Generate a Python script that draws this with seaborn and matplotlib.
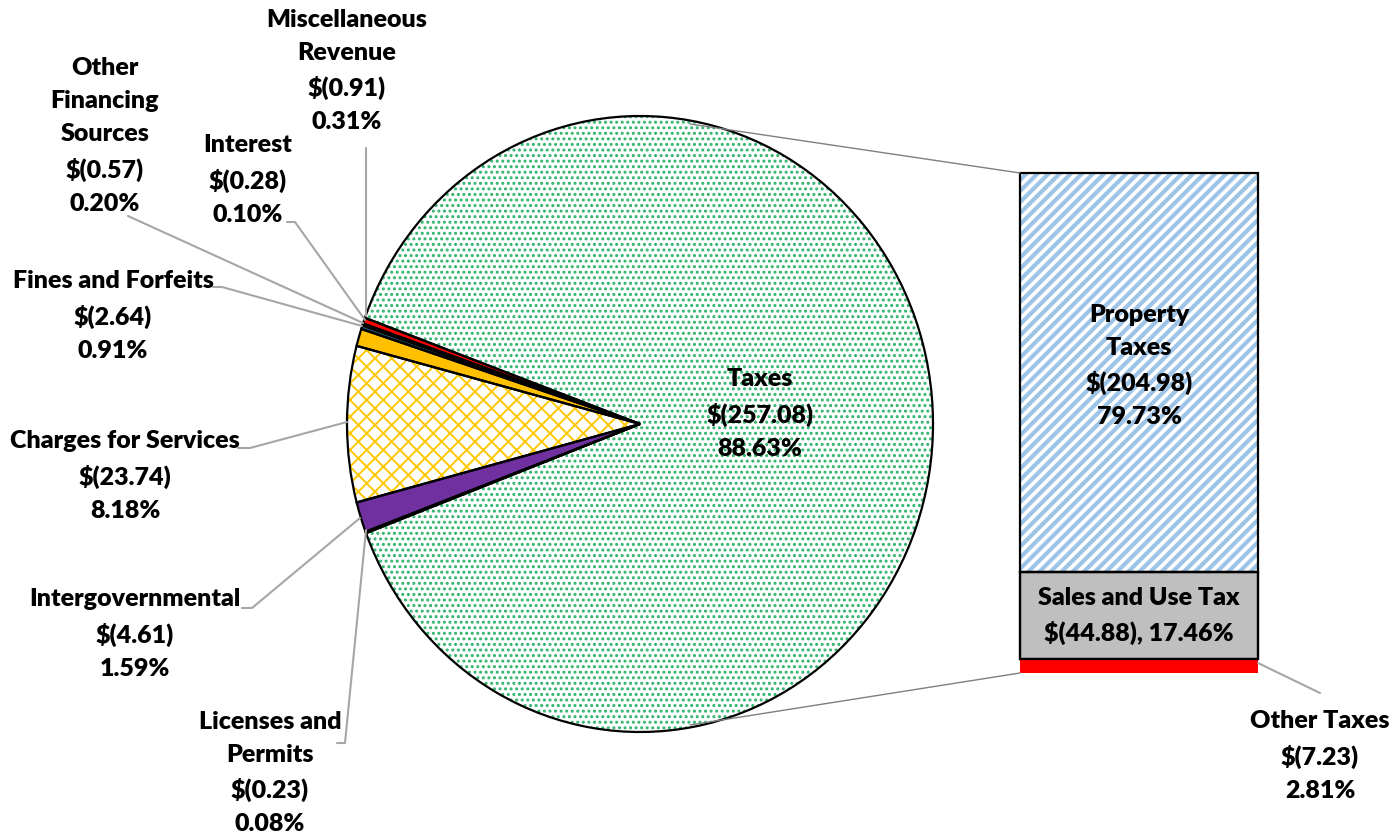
import numpy as np
import matplotlib.pyplot as plt
import seaborn as sns

sns.set_theme(style="white")
plt.rcParams['font.family'] = ['Lato', 'DejaVu Sans']
plt.rcParams['hatch.linewidth'] = 1.4

# --- data -------------------------------------------------------------
pie_names = ["Taxes", "Miscellaneous\nRevenue", "Interest",
             "Other\nFinancing\nSources", "Fines and Forfeits",
             "Charges for Services", "Intergovernmental",
             "Licenses and\nPermits"]
pie_amounts = [257.08, 0.91, 0.28, 0.57, 2.64, 23.74, 4.61, 0.23]
pie_pcts = [88.63, 0.31, 0.10, 0.20, 0.91, 8.18, 1.59, 0.08]
pie_colors = ["white", "#FF0000", "#000000", "#1F5060", "#FFC000",
              "white", "#7030A0", "#2E7D4F"]
pie_hatches = ["...", None, None, None, None, "xx", None, None]
pie_hatch_colors = ["#2DB36A", None, None, None, None, "#FFC800", None, None]

bar_names = ["Property\nTaxes", "Sales and Use Tax", "Other Taxes"]
bar_amounts = [204.98, 44.88, 7.23]
bar_pcts = [79.73, 17.46, 2.81]
bar_colors = ["white", "#BFBFBF", "#FF0000"]

W, H = 1390, 840
fig = plt.figure(figsize=(W / 100, H / 100), dpi=100)

# pie sits in its own axes (slightly taller than wide, like the original)
pax = fig.add_axes([347 / W, (H - 732) / H, 586 / W, 616 / H])
start = 180 + 0.5 * (sum(pie_pcts) - pie_pcts[0]) / 100 * 360 + 0.3
wedges, _ = pax.pie(pie_pcts, colors=pie_colors, startangle=start,
                    counterclock=True, wedgeprops=dict(linewidth=0))
for w, h, hc in zip(wedges, pie_hatches, pie_hatch_colors):
    if h:
        w.set_hatch(h)
        w.set_edgecolor(hc)
pax.pie(pie_pcts, colors=["none"] * len(pie_pcts), startangle=start,
        counterclock=True,
        wedgeprops=dict(linewidth=1.6, edgecolor="black", fill=False))
pax.set_aspect("auto")
pax.set_xlim(-1.0, 1.0)
pax.set_ylim(-1.0, 1.0)
pax.axis("off")

# overlay axes in pixel coordinates
ax = fig.add_axes([0, 0, 1, 1])
ax.set_xlim(0, W)
ax.set_ylim(H, 0)
ax.patch.set_alpha(0)
ax.axis("off")

# stacked bar of the tax breakdown
bar_x, bar_w, bar_top, px_per_pct = 1139, 238, 173, 5.0
heights = [p * px_per_pct for p in bar_pcts]
bottoms = bar_top + np.concatenate([[0], np.cumsum(heights)[:-1]])
bars = ax.bar([bar_x] * 3, heights, bottom=bottoms, width=bar_w,
              color=bar_colors, edgecolor="black", linewidth=1.6)
bars[0].set_hatch("///")
bars[0].set_edgecolor("#9DC3E6")
bars[0].set_linewidth(0)
if hasattr(bars[0], "set_hatch_linewidth"):
    bars[0].set_hatch_linewidth(3.0)
bars[2].set_linewidth(0)
ax.bar([bar_x] * 2, heights[:2], bottom=bottoms[:2], width=bar_w,
       fill=False, edgecolor="black", linewidth=1.6)

# connector lines pie -> bar
gray = "#7F7F7F"
ax.plot([690, bar_x - bar_w / 2], [124, bar_top], color=gray, lw=1)
ax.plot([690, bar_x - bar_w / 2], [725, bar_top + sum(heights)], color=gray, lw=1)

txt = dict(fontsize=18, fontweight="heavy", ha="center", va="center",
           linespacing=1.62, color="black")


def label(name, amt, pct, x, y, sep="\n"):
    ax.text(x, y, f"{name}\n$({amt:.2f}){sep}{pct:.2f}%", **txt)


# pie labels: (x, y) text centre, leader polyline
pie_label_pos = [(760, 414), (347, 71), (248, 180), (105, 136), (113, 316),
                 (125, 476), (135, 634), (270, 773)]
pie_leaders = [None,
               [(366, 148), (366, 316)],
               [(287, 222), (295, 222), (365, 320)],
               [(128, 216), (363, 323)],
               [(213, 287), (222, 287), (362, 326)],
               [(238, 448), (250, 448), (347, 422)],
               [(242, 608), (252, 608), (360, 518)],
               [(337, 743), (345, 743), (366, 530)]]
for name, amt, pct, (x, y), ld in zip(pie_names, pie_amounts, pie_pcts,
                                      pie_label_pos, pie_leaders):
    label(name, amt, pct, x, y)
    if ld:
        xs, ys = zip(*ld)
        ax.plot(xs, ys, color="#A6A6A6", lw=1.5, zorder=0.5)

label(bar_names[0], bar_amounts[0], bar_pcts[0], bar_x, 366)
label(bar_names[1], bar_amounts[1], bar_pcts[1], bar_x, 616, sep=", ")
label(bar_names[2], bar_amounts[2], bar_pcts[2], 1320, 756)
ax.plot([1258, 1320], [663, 693], color="#A6A6A6", lw=1.5)

fig.savefig("out.png", dpi=100, facecolor="white")
